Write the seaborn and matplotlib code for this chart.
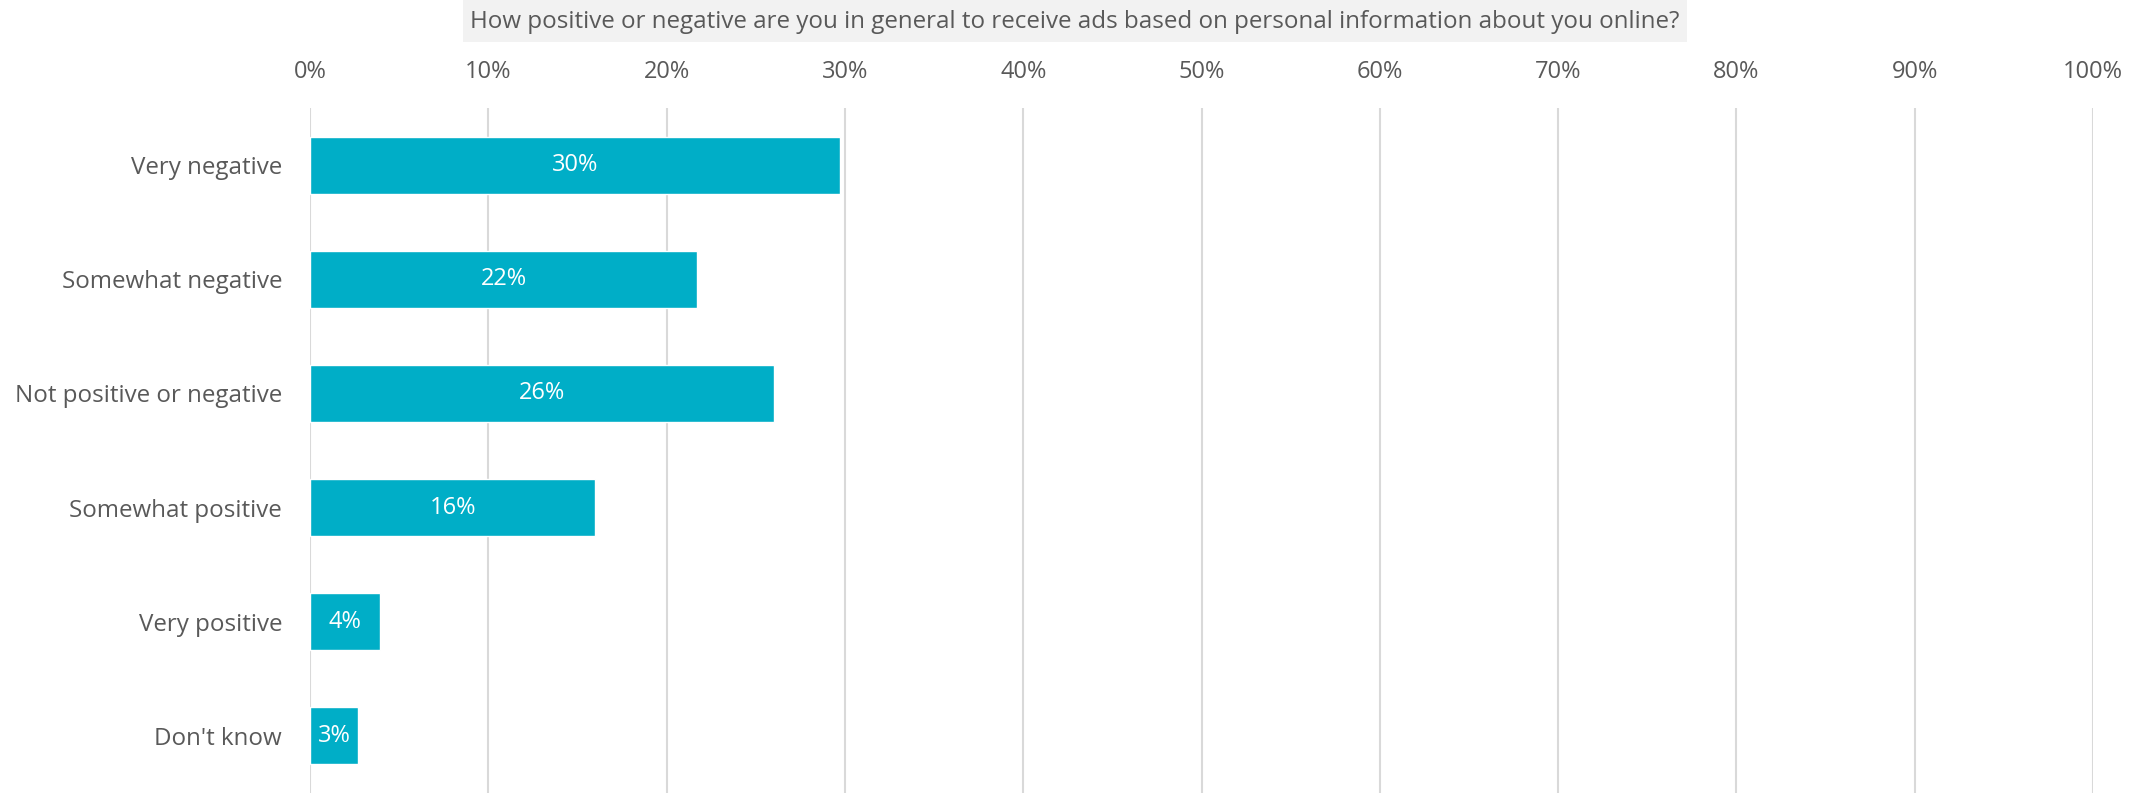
import numpy as np
import pandas as pd
import matplotlib
matplotlib.use("Agg")
import matplotlib.pyplot as plt
import seaborn as sns
from matplotlib.ticker import PercentFormatter
from matplotlib.patches import Rectangle

# dati
categorie = ["Very negative", "Somewhat negative", "Not positive or negative",
             "Somewhat positive", "Very positive", "Don't know"]
valori = [0.297, 0.217, 0.260, 0.160, 0.039, 0.027]
etichette = ["30%", "22%", "26%", "16%", "4%", "3%"]
titolo = "How positive or negative are you in general to receive ads based on personal information about you online?"

df = pd.DataFrame({"categoria": categorie, "valore": valori})

sns.set_theme(style="white")
plt.rcParams['font.family'] = ['Open Sans', 'DejaVu Sans']

grigio = "#595959"
colore_barre = "#00aec7"

W, H = 2130, 795
fig = plt.figure(figsize=(W / 100, H / 100), dpi=100)
ax = fig.add_axes([310/W, 2/H, (2093-310)/W, (793-108)/H])

sns.barplot(data=df, x="valore", y="categoria", color=colore_barre, width=0.5,
            saturation=1, ax=ax, zorder=3)

# etichette dentro le barre
for p, lab in zip(ax.patches, etichette):
    ax.text(p.get_x() + p.get_width() / 2, p.get_y() + p.get_height() / 2, lab,
            ha="center", va="center", color="white", fontsize=17, zorder=4)

ax.set_xlim(0, 1)
ax.set_xticks(np.arange(0, 1.01, 0.1))
ax.xaxis.set_major_formatter(PercentFormatter(1, decimals=0))
ax.xaxis.tick_top()
ax.tick_params(axis="x", length=0, pad=17, labelsize=17, labelcolor=grigio)
ax.tick_params(axis="y", length=0, pad=20, labelsize=17.4, labelcolor=grigio)
ax.set_xlabel("")
ax.set_ylabel("")
ax.grid(axis="x", color="#d9d9d9", linewidth=1.5, zorder=0)
ax.grid(axis="y", visible=False)
for s in ax.spines.values():
    s.set_visible(False)

# titolo con riquadro grigio
fig.patches.append(Rectangle((463/W, 1 - 42/H), (1687-463)/W, 42/H,
                             transform=fig.transFigure, facecolor="#f2f2f2",
                             edgecolor="none", zorder=0))
fig.text(1075/W, 1 - 22/H, titolo, ha="center", va="center", fontsize=17.4,
         color=grigio)

fig.savefig("out.png", dpi=100)
